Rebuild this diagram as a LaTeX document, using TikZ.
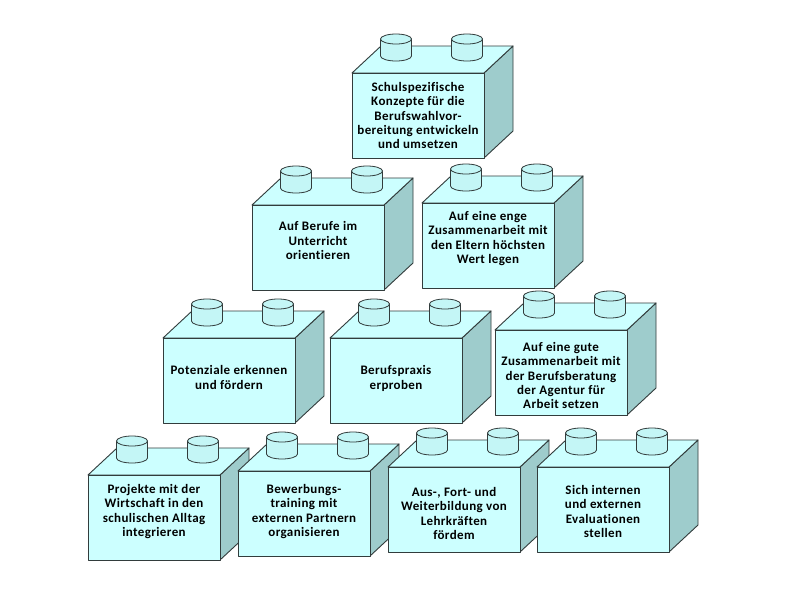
\documentclass[tikz,border=0pt]{standalone}
\usepackage{fontspec}
\setmainfont{Carlito}[Ligatures=NoCommon,LetterSpace=3]
\definecolor{facecol}{RGB}{204,255,255}
\definecolor{sidecol}{RGB}{158,204,204}
\definecolor{cylcol}{RGB}{196,246,246}
\definecolor{edgecol}{RGB}{50,60,60}
\tikzset{
 face/.style={fill=facecol, draw=edgecol, line width=0.9pt, line join=round},
 side/.style={fill=sidecol, draw=edgecol, line width=0.9pt, line join=round},
 cyl/.style={fill=cylcol, draw=edgecol, line width=0.8pt},
 brtext/.style={align=center, font=\bfseries\fontsize{13}{14.3}\selectfont, text=black, inner sep=0pt}
}
\newcommand\brick[5]{%
 \begin{scope}[shift={(#2,#3)}]
 \path[side] (132,0) -- (161,-27) -- (161,58) -- (132,85) -- cycle;
 \path[face] (0,0) -- (29,-27) -- (161,-27) -- (132,0) -- cycle;
 \foreach \cx in {44,115}{
   \path[cyl] (\cx-15.5,-34) -- (\cx-15.5,-17) arc[start angle=180,end angle=360,x radius=15.5pt,y radius=5pt] -- (\cx+15.5,-34) -- cycle;
   \path[cyl] (\cx,-34) ellipse[x radius=15.5pt,y radius=5pt];
 }
 \path[face] (0,0) rectangle (132,85);
 \node[brtext] (#1) at (66,{42.5+#5}) {#4};
 \end{scope}}
\begin{document}
\begin{tikzpicture}[x=1pt,y=-1pt]
\fill[white] (0,0) rectangle (800,600);
\useasboundingbox (0,0) rectangle (800,600);
\brick{b1}{352}{73}{Schulspezifische\\Konzepte für die\\Berufswahlvor-\\bereitung entwickeln\\und umsetzen}{0}
\brick{b2}{252}{205}{Auf Berufe im\\Unterricht\\orientieren}{-7}
\brick{b3}{422}{203}{Auf eine enge\\Zusammenarbeit mit\\den Eltern höchsten\\Wert legen}{-7}
\brick{b4}{163}{338}{Potenziale erkennen\\und fördern}{-3}
\brick{b5}{330}{338}{Berufspraxis\\erproben}{-2}
\brick{b6}{495}{330}{Auf eine gute\\Zusammenarbeit mit\\der Berufsberatung\\der Agentur für\\Arbeit setzen}{3}
\brick{b7}{88}{475}{Projekte mit der\\Wirtschaft in den\\schulischen Alltag\\integrieren}{-6}
\brick{b8}{238}{471}{Bewerbungs-\\training mit\\externen Partnern\\organisieren}{-2}
\brick{b9}{388}{467}{Aus-, Fort- und\\Weiterbildung von\\Lehrkräften\\fördem}{4}
\brick{b10}{537}{467}{Sich internen\\und externen\\Evaluationen\\stellen}{2}
\end{tikzpicture}
\end{document}
